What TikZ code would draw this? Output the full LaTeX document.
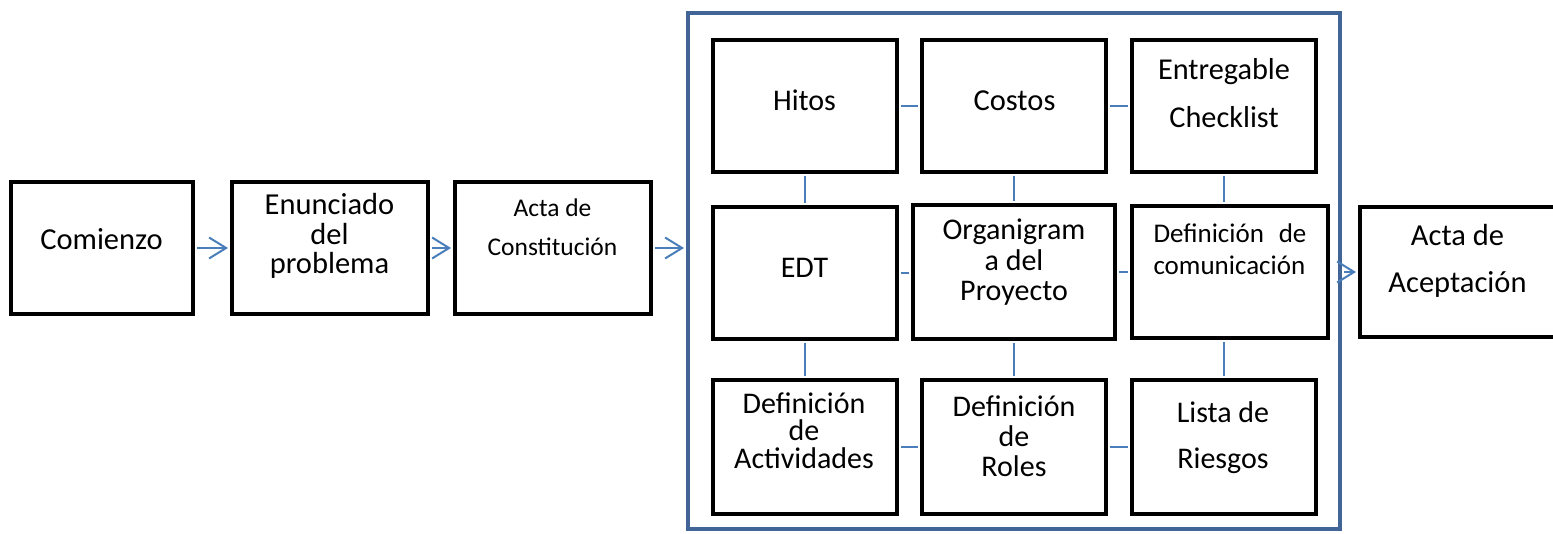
\documentclass[tikz,border=0pt]{standalone}
\usepackage{fontspec}
\setmainfont{Carlito}
\usetikzlibrary{arrows.meta}
\definecolor{connc}{RGB}{74,126,187}
\definecolor{framec}{RGB}{65,101,151}
\begin{document}
\begin{tikzpicture}[x=1pt,y=-1pt,
  box/.style={draw=black, line width=4pt, rectangle, inner sep=0pt, fill=white},
  frm/.style={draw=framec, line width=4pt, rectangle, inner sep=0pt},
  conn/.style={draw=connc, line width=2pt, shorten <=2pt, shorten >=2pt},
  arr/.style={conn, -{Straight Barb[length=17pt,width=21pt,line width=2pt]}},
  txt/.style={inner sep=0pt, align=center, anchor=base},
]
\useasboundingbox (0,0) rectangle (1553,534);
\clip (0,0) rectangle (1553,534);
% frame
\node[frm, minimum width=652pt, minimum height=516pt] (framebox) at (1014,271) {};
% outer boxes
\node[box, minimum width=182pt, minimum height=132pt] (comienzo) at (102,248) {};
\node[box, minimum width=196pt, minimum height=132pt] (enunciado) at (330,248) {};
\node[box, minimum width=196pt, minimum height=132pt] (actac) at (553,248) {};
\node[box, minimum width=240pt, minimum height=130pt] (aceptacion) at (1480,272) {};
% inner boxes
\node[box, minimum width=184pt, minimum height=132pt] (hitos) at (805,106) {};
\node[box, minimum width=184pt, minimum height=132pt] (costos) at (1014,106) {};
\node[box, minimum width=184pt, minimum height=132pt] (entregable) at (1224,106) {};
\node[box, minimum width=184pt, minimum height=132pt] (edt) at (805,273) {};
\node[box, minimum width=202pt, minimum height=134pt] (organ) at (1014,272) {};
\node[box, minimum width=196pt, minimum height=132pt] (comunic) at (1230,272) {};
\node[box, minimum width=184pt, minimum height=134pt] (activ) at (805,447) {};
\node[box, minimum width=184pt, minimum height=134pt] (roles) at (1014,447) {};
\node[box, minimum width=184pt, minimum height=134pt] (lista) at (1224,447) {};
% texts (anchor base = baseline of the last line)
\node[txt, font=\fontsize{30.5}{30}\selectfont] (tcomienzo) at (101.5,250) {Comienzo};
\node[txt, font=\fontsize{30.5}{29.5}\selectfont] (tenunciado) at (329.5,274) {Enunciado\\del\\problema};
\node[txt, font=\fontsize{25.5}{39}\selectfont] (tactac) at (552.5,256) {Acta de\\Constitución};
\node[txt, font=\fontsize{30.5}{47}\selectfont] (taceptacion) at (1457.5,293) {Acta de\\Aceptación};
\node[txt, font=\fontsize{30}{30}\selectfont] (thitos) at (804.5,111) {Hitos};
\node[txt, font=\fontsize{30.5}{30}\selectfont] (tcostos) at (1014.5,111) {Costos};
\node[txt, font=\fontsize{30.3}{48}\selectfont] (tentregable) at (1224,128) {Entregable\\Checklist};
\node[txt, font=\fontsize{30}{30.5}\selectfont] (torgan) at (1014,301) {Organigram\\a del\\Proyecto};
\node[txt, font=\fontsize{30}{30}\selectfont] (tedt) at (804.5,278) {EDT};
\node[txt, align=left, font=\fontsize{27}{32}\selectfont] (tcomunic) at (1230,275) {\makebox[153pt][s]{Definición\hfill de}\\comunicación};
\node[txt, font=\fontsize{30}{27.5}\selectfont] (tactiv) at (804,468) {Definición\\de\\Actividades};
\node[txt, font=\fontsize{30}{30}\selectfont] (troles) at (1014,476) {Definición\\de\\Roles};
\node[txt, font=\fontsize{30}{46}\selectfont] (tlista) at (1223,468) {Lista de\\Riesgos};
% connectors
\draw[conn] (hitos.east) -- (costos.west);
\draw[conn] (costos.east) -- (entregable.west);
\draw[conn] (edt.east) -- (edt.east -| organ.west);
\draw[conn] (organ.east) -- (organ.east -| comunic.west);
\draw[conn] (activ.east) -- (roles.west);
\draw[conn] (roles.east) -- (lista.west);
\draw[conn] (hitos.south) -- (hitos.south |- edt.north);
\draw[conn] (costos.south) -- (costos.south |- organ.north);
\draw[conn] (entregable.south) -- (entregable.south |- comunic.north);
\draw[conn] (edt.south) -- (edt.south |- activ.north);
\draw[conn] (organ.south) -- (organ.south |- roles.north);
\draw[conn] (lista.north) -- (lista.north |- comunic.south);
% arrows
\draw[arr] (comienzo.east) -- (enunciado.west);
\draw[arr] (enunciado.east) -- (actac.west);
\draw[arr] (actac.east) -- (actac.east -| framebox.west);
\draw[arr] (framebox.east |- aceptacion.west) -- (aceptacion.west);
\end{tikzpicture}
\end{document}
